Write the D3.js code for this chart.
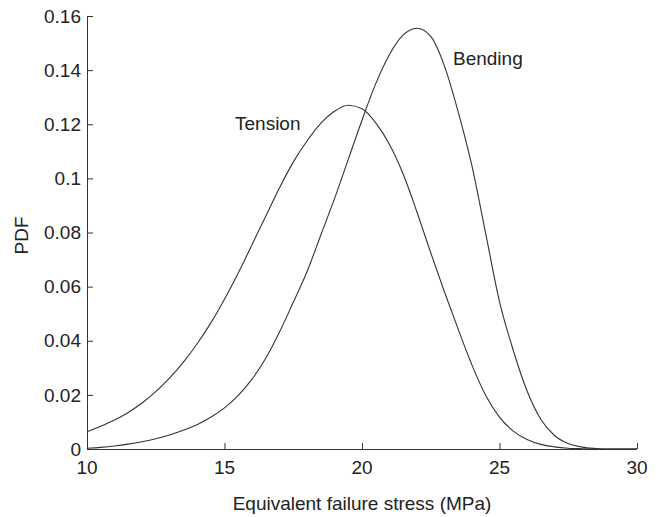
<!DOCTYPE html>
<meta charset="utf-8">
<style>
    body { margin: 0; background: #fff; }
    text { font-family: "Liberation Sans", Arial, sans-serif; fill: #222; }
    .axis path, .axis line { stroke: #333; }
    .curve { fill: none; stroke: #333; stroke-width: 1.1; }
</style>

<svg width="666" height="517"></svg>

<script src="https://d3js.org/d3.v7.min.js"></script>
<script>
// stress values (MPa) sampled every 0.5
var stress = [10, 10.5, 11, 11.5, 12, 12.5, 13, 13.5, 14, 14.5, 15, 15.5, 16, 16.5, 17, 17.5,
    18, 18.5, 19, 19.5, 20, 20.5, 21, 21.5, 22, 22.5, 23, 23.5, 24, 24.5, 25, 25.5,
    26, 26.5, 27, 27.5, 28, 28.5, 29, 29.5, 30];

var tension = [0.0064, 0.0084, 0.0107, 0.0135, 0.017, 0.0212, 0.0262, 0.032, 0.0388, 0.0465,
    0.0553, 0.065, 0.0755, 0.086, 0.0965, 0.106, 0.1138, 0.1203, 0.1248, 0.127, 0.1257, 0.1205,
    0.1125, 0.1015, 0.0875, 0.0725, 0.058, 0.0442, 0.031, 0.0198, 0.0118, 0.0066, 0.0035,
    0.0017, 0.0008, 0.0003, 0.0001, 0, 0, 0, 0];

var bending = [0.0003, 0.0006, 0.0011, 0.0018, 0.0027, 0.0038, 0.0052, 0.0069, 0.009, 0.0117,
    0.0152, 0.0198, 0.0258, 0.0335, 0.0432, 0.0542, 0.0655, 0.079, 0.0925, 0.107, 0.1215, 0.135,
    0.1458, 0.153, 0.1555, 0.1525, 0.1415, 0.1245, 0.1045, 0.0795, 0.0545, 0.0365, 0.0215,
    0.011, 0.005, 0.002, 0.0007, 0.0002, 0, 0, 0];

var xTicks = [10, 15, 20, 25, 30];
var yTicks = [0, 0.02, 0.04, 0.06, 0.08, 0.1, 0.12, 0.14, 0.16];
var yTickLabels = ["0", "0.02", "0.04", "0.06", "0.08", "0.1", "0.12", "0.14", "0.16"];

var svg = d3.select("svg");
var mLeft = 87, mRight = 637, mTop = 16, mBottom = 449;
var fontSize = 19;

var x = d3.scaleLinear().domain([10, 30]).range([mLeft, mRight]);
var y = d3.scaleLinear().domain([0, 0.16]).range([mBottom, mTop]);

// x axis, ticks pointing inward (up)
var xAxis = svg.append("g")
    .attr("class", "axis")
    .attr("transform", "translate(0," + mBottom + ")")
    .call(d3.axisBottom(x).tickValues(xTicks).tickSize(0).tickFormat(""));
xAxis.selectAll(".tick line").attr("y2", -6);
xAxis.select(".domain").attr("d", "M" + mLeft + ",0.5H" + mRight);
svg.append("g").selectAll("text")
    .data(xTicks)
    .enter().append("text")
    .attr("x", function(d) { return x(d); })
    .attr("y", 473.5)
    .attr("text-anchor", "middle")
    .style("font-size", fontSize + "px")
    .text(function(d) { return d; });

// y axis, ticks pointing inward (right)
var yAxis = svg.append("g")
    .attr("class", "axis")
    .attr("transform", "translate(" + mLeft + ",0)")
    .call(d3.axisLeft(y).tickValues(yTicks).tickSize(0).tickFormat(""));
yAxis.selectAll(".tick line").attr("x2", 6);
yAxis.select(".domain").attr("d", "M0.5," + mTop + "V" + mBottom);
svg.append("g").selectAll("text")
    .data(yTicks)
    .enter().append("text")
    .attr("x", mLeft - 6)
    .attr("y", function(d) { return y(d); })
    .attr("dy", "0.35em")
    .attr("text-anchor", "end")
    .style("font-size", fontSize + "px")
    .text(function(d, i) { return yTickLabels[i]; });

// axis titles
svg.append("text")
    .attr("x", (mLeft + mRight) / 2)
    .attr("y", 510)
    .attr("text-anchor", "middle")
    .style("font-size", fontSize + "px")
    .text("Equivalent failure stress (MPa)");

svg.append("text")
    .attr("transform", "translate(28," + ((mTop + mBottom) / 2 + 3) + ") rotate(-90)")
    .attr("text-anchor", "middle")
    .style("font-size", fontSize + "px")
    .text("PDF");

// curves
var line = d3.line()
    .curve(d3.curveMonotoneX)
    .x(function(d) { return x(d[0]); })
    .y(function(d) { return y(d[1]); });

[tension, bending].forEach(function(series) {
    svg.append("path")
        .attr("class", "curve")
        .attr("d", line(d3.zip(stress, series)));
});

// curve labels
svg.append("text")
    .attr("x", 235).attr("y", 130)
    .style("font-size", fontSize + "px")
    .text("Tension");
svg.append("text")
    .attr("x", 453).attr("y", 65)
    .style("font-size", fontSize + "px")
    .text("Bending");
</script>
